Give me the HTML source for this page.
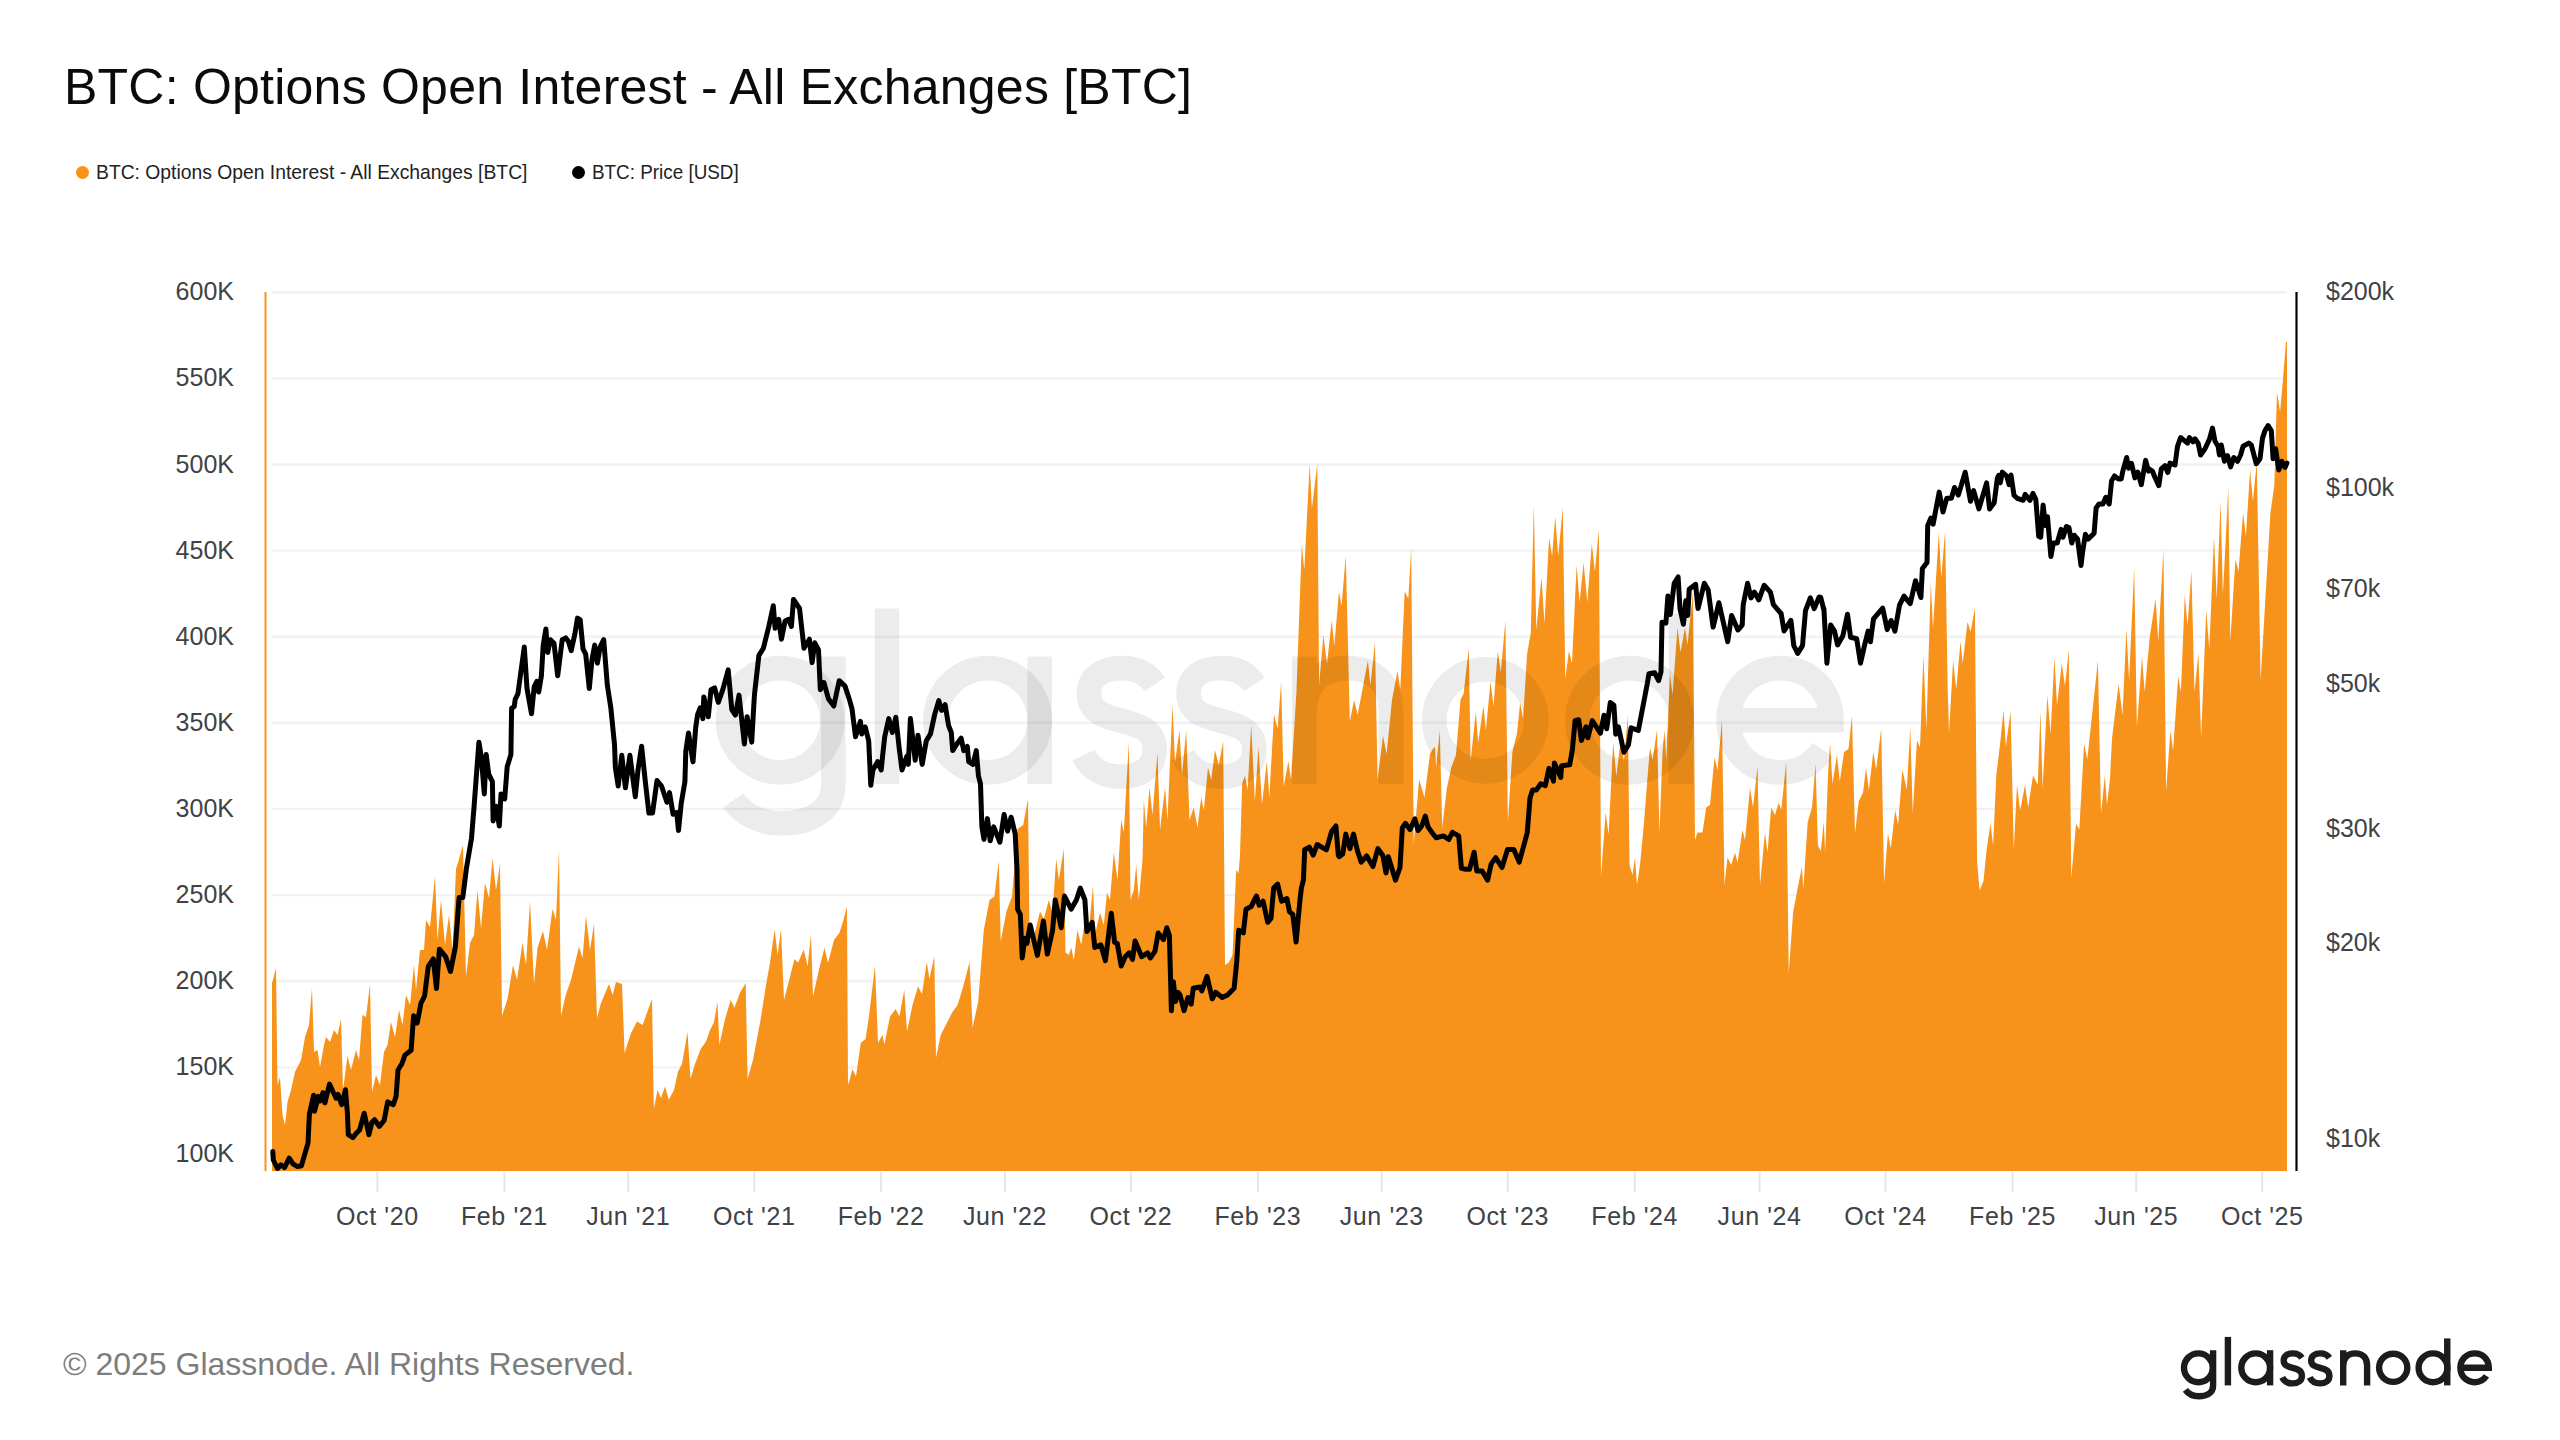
<!DOCTYPE html>
<html><head><meta charset="utf-8">
<style>
html,body{margin:0;padding:0;background:#fff;}
body{width:2560px;height:1440px;position:relative;overflow:hidden;font-family:"Liberation Sans",sans-serif;}
.t{position:absolute;white-space:nowrap;}
</style></head><body>
<div class="t" style="left:64px;top:57px;font-size:50px;color:#0b0b0b;letter-spacing:0.23px;line-height:60px">BTC: Options Open Interest - All Exchanges [BTC]</div>
<div class="t" style="left:76px;top:166px;width:13px;height:13px;border-radius:50%;background:#F7931A"></div>
<div class="t" style="left:96px;top:159.5px;font-size:20.4px;color:#222;line-height:24px;transform:scaleX(0.947);transform-origin:0 0">BTC: Options Open Interest - All Exchanges [BTC]</div>
<div class="t" style="left:572px;top:166px;width:13px;height:13px;border-radius:50%;background:#000"></div>
<div class="t" style="left:592px;top:159.5px;font-size:20.4px;color:#222;line-height:24px;transform:scaleX(0.925);transform-origin:0 0">BTC: Price [USD]</div>
<svg width="2560" height="1440" style="position:absolute;left:0;top:0">
<g stroke="#f2f2f2" stroke-width="2.4"><line x1="272" y1="292.2" x2="2287" y2="292.2"/><line x1="272" y1="378.3" x2="2287" y2="378.3"/><line x1="272" y1="464.5" x2="2287" y2="464.5"/><line x1="272" y1="550.6" x2="2287" y2="550.6"/><line x1="272" y1="636.7" x2="2287" y2="636.7"/><line x1="272" y1="722.8" x2="2287" y2="722.8"/><line x1="272" y1="809.0" x2="2287" y2="809.0"/><line x1="272" y1="895.1" x2="2287" y2="895.1"/><line x1="272" y1="981.2" x2="2287" y2="981.2"/><line x1="272" y1="1067.4" x2="2287" y2="1067.4"/><line x1="272" y1="1153.5" x2="2287" y2="1153.5"/></g>
<g stroke="#e6e6e6" stroke-width="2"><line x1="377.4" y1="1172" x2="377.4" y2="1192"/><line x1="504.4" y1="1172" x2="504.4" y2="1192"/><line x1="628.2" y1="1172" x2="628.2" y2="1192"/><line x1="754.2" y1="1172" x2="754.2" y2="1192"/><line x1="881.1" y1="1172" x2="881.1" y2="1192"/><line x1="1005.0" y1="1172" x2="1005.0" y2="1192"/><line x1="1130.9" y1="1172" x2="1130.9" y2="1192"/><line x1="1257.9" y1="1172" x2="1257.9" y2="1192"/><line x1="1381.8" y1="1172" x2="1381.8" y2="1192"/><line x1="1507.7" y1="1172" x2="1507.7" y2="1192"/><line x1="1634.7" y1="1172" x2="1634.7" y2="1192"/><line x1="1759.6" y1="1172" x2="1759.6" y2="1192"/><line x1="1885.5" y1="1172" x2="1885.5" y2="1192"/><line x1="2012.5" y1="1172" x2="2012.5" y2="1192"/><line x1="2136.3" y1="1172" x2="2136.3" y2="1192"/><line x1="2262.3" y1="1172" x2="2262.3" y2="1192"/></g>
<rect x="264.5" y="292" width="2" height="879" fill="#F7931A"/>
<path d="M272,1171 L272,982 L272.5,982 L276,967.5 L277.5,1085 L280,1077 L282.5,1115 L285,1125 L287.5,1102 L291,1090 L295,1072 L297.5,1067 L301,1060 L305,1037 L309,1025 L312,988 L314,1052 L317.5,1050 L320,1067 L324,1045 L326,1037 L330,1042 L334,1030 L337.5,1035 L341,1019 L343,1090 L347.5,1056 L351,1070 L356,1050 L359,1060 L362.5,1015 L366,1017 L370,984 L372,1092 L376,1075 L380,1085 L384,1052 L387.5,1045 L391,1022 L395,1037 L399,1010 L402.5,1025 L406,995 L410,1005 L414,965 L416,990 L420,950 L424,950 L426,920 L430,927 L435,876 L437.5,940 L441,900 L445,945 L449,915 L452.5,950 L456,869 L458.8,860 L463,845 L466,976.5 L470,943 L474,935 L477.5,890 L481,928 L485,883 L489,898 L492.5,858 L496,890 L500,864 L502,1016 L507.5,999 L513,965 L517,980 L522.5,943 L526,965 L530,901 L534,984 L537.5,948 L543,931 L547,950 L552.5,909 L556,920 L559,849 L561,1016 L565.7,995 L571,980 L579,946.5 L582.5,958 L586,916 L590,950 L594,924 L597,1018 L601,1003 L609,984 L612.6,995 L616,982 L622,984 L624.6,1053 L631,1033 L637,1021.5 L642.6,1025 L648,1010 L652,999 L653.8,1105 L654,1108 L657.5,1090 L661,1098 L665,1086.6 L668.8,1099.7 L674,1090 L678,1071.6 L682,1064 L687.5,1032 L690.5,1079 L695,1064 L700.7,1049 L706,1041.5 L710,1030 L713.8,1022.8 L717.5,1002 L719.4,1045 L725,1019 L730.7,1000 L734.4,1007.8 L740,992.8 L745.7,983 L747.6,1079 L753,1060 L760.7,1019 L766,985 L770,962.7 L774.6,929 L777.6,955 L781,929 L784,1000 L788.8,981.5 L794.5,959 L798,962.7 L803.8,949.6 L807.6,966.5 L811,934.6 L813,996.5 L818.9,970 L824.5,947.7 L828,962.7 L834,940 L839.5,932.7 L843,921.5 L847,906.5 L848,1084 L848.9,1082.8 L852.5,1069 L856,1076.5 L860.8,1042.8 L865.6,1039 L869.4,1012.8 L875,965.8 L878,1042.8 L882.5,1035 L884.4,1044.6 L890,1016.5 L895.7,1009 L899.4,1016.5 L904.3,990 L907,1031.5 L912.5,1005 L918,986.5 L922,994 L926.8,962 L929.4,979 L934.3,956.5 L936,1057.8 L940.7,1035 L946.3,1024 L952,1012.8 L957.6,1005 L963.2,986.5 L969.6,962 L972.6,1027.8 L978.2,1001.5 L983.8,930 L989.5,900 L994.4,896.4 L998.8,860.8 L1000.7,941.5 L1006.4,911.4 L1012,896.4 L1017.6,829 L1023.2,825 L1028,798.9 L1029.6,941.5 L1034.5,934 L1040,911.4 L1043.9,919 L1048.8,900 L1052.5,912.5 L1056.2,858.8 L1058.8,880 L1063.8,848.8 L1065.5,952.5 L1068.8,955 L1071.2,947.5 L1073.8,960 L1077.5,930 L1081.2,945 L1085,920 L1088.8,930 L1093,886 L1095,935 L1100,912.5 L1103.8,925 L1107,892.5 L1110,900 L1113.8,852.5 L1117.5,880 L1121.2,820 L1123.8,832.5 L1128.8,742.5 L1130.5,900 L1133.8,890 L1136.2,865 L1138.8,900 L1142.5,860 L1143.8,800 L1146.2,827.5 L1149.5,787.5 L1152.5,815 L1157.5,752.5 L1160,830 L1165,787.5 L1167.5,820 L1172.5,705 L1175,762.5 L1179.5,730 L1182,775 L1186.2,730 L1189.5,820 L1193.8,807.5 L1197.5,827.5 L1201.2,797.5 L1203.8,810 L1208,767.5 L1211.2,780 L1215,750 L1218.8,765 L1223.2,741.2 L1225,965 L1228.8,962.5 L1232.5,955 L1236.2,870 L1238.6,873 L1240,855 L1242.2,783 L1245,775.7 L1247.6,790 L1251.2,725 L1254.9,801 L1258.5,746.9 L1262,804.6 L1266.8,761.3 L1269.3,797.4 L1274,714.4 L1277.6,728.8 L1281.2,681.9 L1283.7,786.6 L1288.4,761.3 L1291,779.4 L1296.4,692.7 L1301.8,544.7 L1304.3,570 L1309.7,463.5 L1311.9,508.6 L1317.3,463.5 L1319.1,685.5 L1323.4,635 L1327,663.8 L1331.7,620.5 L1334.3,645.8 L1339,591.6 L1341.5,606 L1345.8,555.5 L1349.8,721.6 L1354.1,700 L1357.7,714.4 L1363.2,685.5 L1367.9,660.2 L1370.4,685.5 L1375,642.2 L1377.6,779.4 L1383,736 L1386.6,754 L1392,700 L1397.5,671 L1400.3,689 L1404.7,591.6 L1408.3,598.8 L1411.2,548.3 L1413.7,844.3 L1419.1,779.4 L1424.5,797.4 L1430,754 L1433,748.7 L1435,747 L1436.1,767 L1439.8,730.4 L1442.2,828 L1446.8,788.4 L1451.4,767 L1456,754.8 L1460.5,699.8 L1463.6,693.7 L1468.8,648 L1470.6,761 L1475.8,712 L1478.2,742.6 L1483.4,706 L1485.9,730.4 L1490.5,681.5 L1493.5,706 L1497.8,651 L1500.8,672.4 L1505.4,620.5 L1507.9,822 L1512.4,751.8 L1517,733.4 L1520.1,702.9 L1523.1,718.2 L1527.1,654 L1530.8,632.7 L1533.8,504.4 L1536.3,629.6 L1541.5,577.7 L1544.5,623.5 L1549.1,538 L1552.1,556.3 L1555.2,516.6 L1558.2,556.3 L1562.8,507.5 L1565.3,678.5 L1568.9,651 L1572,663.2 L1576.6,565.5 L1579.6,602 L1583.6,562.4 L1587.3,602 L1591.8,544 L1594.9,571.6 L1598.9,528.9 L1601,877 L1605.6,812.8 L1608.6,834.2 L1613.2,742.6 L1616.3,776.2 L1620.8,739.5 L1623.9,761 L1627.9,715 L1629.5,865 L1632.5,875 L1635,857.5 L1637,885 L1640,865 L1643.8,825 L1647.5,777.5 L1650,747.5 L1652.5,760 L1657,730 L1659.5,832.5 L1662.5,752.5 L1664.5,730 L1666.2,760 L1670,675 L1672.5,695 L1677.5,627.5 L1680.5,652.5 L1685,627.5 L1687.5,645 L1690.5,615 L1693,592.5 L1695,840 L1697.5,832.5 L1702.5,832.5 L1706.2,807.5 L1710,805 L1714.5,757.5 L1717.5,770 L1722,720 L1724.5,885 L1727.5,857.5 L1731.2,865 L1735,852.5 L1737.5,862.5 L1742.5,830 L1745,840 L1750,787.5 L1753,807.5 L1757.5,766.2 L1760,885 L1765,832.5 L1767.5,852.5 L1771.2,807.5 L1775,815 L1778.8,802.5 L1781.2,810 L1786.2,762.5 L1788.7,973.6 L1793.1,912.4 L1797.5,889 L1801.9,867 L1803.3,889 L1807.7,822 L1812,807.4 L1815.6,763.7 L1817.9,845.3 L1820.8,851 L1823.7,822 L1825.2,852.6 L1828.1,772.4 L1830.1,743.3 L1832.5,784 L1836.9,755 L1839.8,781.2 L1844.1,752 L1848.5,749 L1852,715.6 L1855,833.6 L1858.7,801.6 L1863,792.8 L1866,768 L1868.9,790 L1873.3,752 L1876.2,769.5 L1881.2,728.7 L1884.1,883.2 L1887.9,833.6 L1890.8,848.2 L1895.2,810.3 L1898.1,825 L1902.4,769.5 L1906.8,790 L1910.3,727.2 L1912.7,813.2 L1917,740.3 L1920,747.6 L1923.4,655.8 L1926.4,728.7 L1930.8,582.2 L1933,628.5 L1938.8,532.6 L1941.3,577.4 L1945.1,531 L1947.7,689.2 L1949,734 L1953.1,660.4 L1956.3,689.2 L1960.5,641.3 L1962.7,663.6 L1967.5,622 L1970.7,631.7 L1974.9,607.7 L1977.1,861.7 L1979.6,890.5 L1983.5,880.9 L1986.7,849 L1990.5,823.4 L1993.1,845.8 L1996.3,775.5 L2000.1,743.5 L2003.6,710 L2005.8,746.7 L2010.6,711.6 L2013.8,849 L2017,785 L2020.2,810.6 L2025,785 L2028.2,807.4 L2033,775.5 L2037.8,785 L2040.4,711.6 L2042.6,788.2 L2047.4,695.6 L2050.6,734 L2054.4,657.3 L2057,705.2 L2061.8,663.6 L2065,686 L2068.8,649.3 L2071.3,877.7 L2076.1,823.4 L2079.3,829.8 L2084.1,743.5 L2087.3,759.5 L2092.1,714.8 L2097.9,660.4 L2101,813.8 L2104.9,775.5 L2107,804.7 L2110,778.7 L2112,738.6 L2118.6,684 L2122.5,715.2 L2126.4,629.6 L2129.1,680.2 L2134.2,567.4 L2136.9,726.9 L2142,656.8 L2144.7,691.9 L2149.7,637.4 L2155.6,598.5 L2158.3,641.3 L2163.4,549.8 L2166.1,791 L2170.4,730.8 L2173.1,750.2 L2178.2,676.3 L2180.9,691.9 L2184.8,594.6 L2187.5,625.7 L2191.4,571.2 L2194.5,691.9 L2198.4,653 L2201.1,738.6 L2206.2,610.2 L2209.3,649 L2214,536.2 L2216.7,598.5 L2220.6,501.2 L2222.9,594.6 L2228.3,487.6 L2230.3,641.3 L2235.4,559.6 L2238.5,571.2 L2243.1,512.9 L2245.9,536.2 L2250.1,470 L2252.9,501.2 L2256.8,462.3 L2260.6,680.2 L2264.5,614 L2270.4,512.9 L2274.3,485.6 L2277,392.3 L2280.1,411.7 L2283.2,376.7 L2286,341.7 L2287,341.7 L2287,1171 Z" fill="#F7931A"/>
<g transform="translate(715,784) scale(3.62)" style="color:rgba(0,0,0,0.075)">
<g fill="none" stroke="currentColor" stroke-width="6.8">
  <circle cx="18" cy="-17.6" r="14.4"/>
  <path d="M32.7,-35.2 V0 C32.7,7 27,10.9 18.5,10.9 C12,10.9 7.5,8 5,4.5"/>
  <path d="M47.5,-48.5 V0"/>
  <circle cx="75.3" cy="-17.6" r="14.4"/>
  <path d="M89.7,-35.2 V0"/>
  <path d="M121.5,-27.5 C119.5,-30.5 116.5,-32 112.5,-32 C107,-32 103.3,-29.5 103.3,-25 C103.3,-14.5 121.5,-20.5 121.5,-9.5 C121.5,-4.5 117.5,-2 112,-2 C107,-2 103.5,-4.5 101.8,-8"/>
  <path d="M149,-27.5 C147,-30.5 144,-32 140,-32 C134.5,-32 130.8,-29.5 130.8,-25 C130.8,-14.5 149,-20.5 149,-9.5 C149,-4.5 145,-2 139.5,-2 C134.5,-2 131,-4.5 129.3,-8"/>
  <path d="M162.8,-35.2 V0 M162.8,-19 C162.8,-28 167.5,-32 174.8,-32 C182,-32 186.7,-28 186.7,-20 V0"/>
  <circle cx="212.8" cy="-17.6" r="14.1"/>
  <circle cx="252.6" cy="-17.6" r="14.4"/>
  <path d="M266.85,-47 V0"/>
  <path d="M280,-17.6 H308.4 C308.4,-26 302.5,-32 294.3,-32 C286,-32 280,-25.6 280,-17.6 C280,-9.3 286,-3.2 294.3,-3.2 C299.5,-3.2 303.5,-5.5 306,-9.5"/>
</g></g>
<path d="M272.8,1151.6 L273.3,1160 L277.5,1168.5 L280.8,1164.8 L284.5,1167.6 L289.2,1158.2 L293,1163.8 L297.6,1166.6 L301.4,1165.7 L305.2,1152.6 L308,1143.2 L309.4,1114.1 L313.6,1095.3 L314.5,1111.3 L318.3,1096.3 L320.2,1101 L323,1092.5 L324.9,1102.9 L329.5,1084.1 L333.3,1092.5 L336.1,1098.2 L338,1094.4 L341.7,1104.7 L345.5,1089.7 L347.4,1113.2 L348.3,1134.7 L353,1137.6 L355.8,1133.8 L359.6,1130 L364.2,1113.2 L368.9,1134.7 L371.8,1122.6 L374.6,1119.7 L379.3,1126.3 L384,1120.7 L387.7,1101.9 L393.3,1104.7 L396.1,1096.3 L398,1070 L402,1063.5 L404.9,1055.1 L411.1,1050.2 L413.6,1015.7 L417.2,1023.1 L420.9,1003.4 L424.6,996 L428.3,966.4 L433.3,959 L436.5,988.6 L439.4,949.2 L445.6,956.6 L450.5,971.4 L455.4,946.7 L459.1,897.4 L462.8,897.4 L466.5,867.9 L471.5,838.3 L473.9,808.7 L478.9,742.2 L481.3,757 L484.3,793.9 L486.2,754.5 L488.7,774.2 L492.4,781.6 L493.1,821 L496.1,806.2 L499.3,826 L501,793.9 L504.7,798.9 L507.2,766.8 L510.9,754.5 L511.6,708.4 L514.3,706.5 L515.2,699.3 L517.9,693.9 L520.6,674 L524.3,647 L527,688.5 L531.5,713.8 L534.2,686.7 L536.9,681.3 L538.7,692.1 L541.4,675.8 L543.2,645.1 L545.9,628.9 L547.7,652.4 L550.4,639.7 L554,643.3 L557.7,675.8 L562.2,639.7 L565.8,637.9 L568.5,641.5 L571.2,650.6 L574.8,634.3 L577.5,618.1 L580.2,619.9 L583,648.8 L585.7,654.2 L589.3,688.5 L592,659.6 L594.7,645.1 L597.4,663.2 L600.1,647 L603.7,639.7 L607.3,684.9 L610.9,708.4 L614.5,744.5 L615.4,767.9 L618.2,786 L621.8,755.3 L625.4,787.8 L629.9,755.3 L635.3,796.8 L638,769.8 L641.6,746.3 L645.2,780.6 L648.9,813.1 L652.5,813.1 L657,780.6 L661.5,786 L666.9,802.3 L669.5,792.6 L673.1,814.3 L676.7,812.5 L678.5,830.5 L681.2,803.5 L684.9,781.8 L685.8,751.1 L688.5,733 L693,761.9 L695.7,727.6 L697.5,715 L700.2,707.8 L702.9,718.6 L703.8,696.9 L708.3,716.8 L711,689.7 L714.6,687.9 L718.3,702.3 L722.8,689.7 L728.2,669.9 L731.8,709.6 L735.4,715 L739,695.1 L744.4,743.9 L747.1,716.8 L751.7,742.1 L754.4,695.1 L758.9,655.4 L763.4,648.2 L768.8,626.5 L773.3,605.8 L775.1,628.3 L778.7,619.3 L781.4,639.2 L785.1,621.1 L788.7,619.3 L791.4,626.5 L793.5,599.4 L799.5,608.5 L804,648.2 L809.4,639.2 L812.1,662.6 L814.8,642.8 L818.5,650 L820.3,689.7 L823.9,682.5 L828.4,698.7 L833.8,706 L839.2,680.7 L845,686.1 L849.3,699.2 L852,708.9 L855.5,736.7 L860.4,721.4 L861.8,733.9 L865.2,726.9 L868.7,740.8 L870.8,785.3 L872.9,770 L877.7,761.7 L881.2,770 L882.6,756.1 L884.7,736.7 L888.8,718.6 L892.3,732.5 L895.8,717.2 L899.3,749.2 L902,770 L906.9,756.1 L908.3,764.4 L910.4,718.6 L915.2,760.3 L918,735.3 L922.2,764.4 L926.3,740.8 L930.5,733.9 L934.7,714.4 L938.8,700.6 L941.6,710.3 L945.1,704.7 L948.6,725.6 L951.3,732.5 L952.7,750.6 L956.2,745 L961.1,738.1 L963.8,750.6 L967.3,746.4 L968.7,761.7 L972.9,764.4 L976.3,750.6 L978.4,775.6 L980.5,783.9 L981.9,826.9 L984,839.4 L987.4,818.6 L990.2,840.8 L993.7,826.9 L999.9,842.2 L1004.1,814.4 L1007.6,831.1 L1011.1,817.2 L1015.2,833.9 L1017,869.6 L1017.6,909.2 L1020.3,914.5 L1022.2,958 L1024.9,938.2 L1026.9,943.5 L1030.2,925 L1037.4,955.4 L1043.4,921.1 L1047.3,954.1 L1052.6,930.3 L1055.2,900 L1061.2,927.7 L1064.5,896 L1071.1,909.2 L1076.4,900 L1080.3,888.1 L1084.9,900 L1086.9,931.6 L1092.2,922.4 L1094.8,947.5 L1100.8,944.8 L1105.4,960.7 L1111.3,913.2 L1114.6,942.2 L1117.3,943.5 L1121.2,966 L1125.2,956.7 L1129.2,952.8 L1132.5,959.4 L1135.1,940.9 L1141.7,956.7 L1147.6,952.8 L1150.3,958 L1154.9,951.4 L1158.2,933 L1163.5,939.6 L1166.8,927.7 L1169.4,935.6 L1171.4,1010.8 L1173.4,981.8 L1175.4,1001.6 L1178,992.4 L1180,994.9 L1184,1010.7 L1187.9,997.5 L1191.2,1004.1 L1193.2,988.3 L1199.8,987 L1201.8,991 L1207,976.4 L1212.3,998.9 L1215.6,992.3 L1222.2,997.5 L1227.5,994.9 L1234.1,988.3 L1236.7,961.9 L1238.7,930.3 L1243.3,932.9 L1246,909.2 L1251.2,906.5 L1256.5,896 L1259.2,905.2 L1263.1,901.2 L1267.7,922.3 L1271,918.4 L1273.7,888 L1277.6,884.1 L1281.6,901.2 L1286.9,898.6 L1289.5,911.8 L1292.8,914.4 L1296.1,942.1 L1300.1,898.6 L1301.4,888 L1303.4,880.1 L1304.7,849.8 L1309.3,847.2 L1313.2,855.1 L1317.2,844.5 L1326.4,849.8 L1331.7,831.3 L1335.9,826 L1338.3,855.1 L1339.1,856.7 L1342.7,854 L1345.8,834.1 L1349.9,848.6 L1353.5,834.1 L1357.6,851.3 L1361.2,862.1 L1366.6,855.8 L1372.9,866.6 L1377.9,848.6 L1382.9,855.8 L1386,872.9 L1388.3,856.7 L1395.5,880.2 L1400,867.5 L1402.3,827.8 L1405.4,823.3 L1410,829.6 L1414.9,818.8 L1418.1,830.5 L1421.7,826 L1425.3,816 L1428,826.9 L1432.5,833.2 L1436.1,837.7 L1443.4,835.9 L1448.8,839.5 L1452.4,832.3 L1458.7,835.9 L1461.4,868.4 L1465.9,869.3 L1469.5,869.3 L1474.1,852.2 L1476.8,871.1 L1482.2,871.1 L1487.6,880.2 L1491.2,863.9 L1495.7,857.6 L1502,867.5 L1507.5,849.5 L1513.8,849.5 L1519.2,862.1 L1523.7,845.8 L1527.3,832.3 L1530,798 L1532.7,789.9 L1536.3,790.1 L1540.8,783.8 L1545.3,785.6 L1549,768.4 L1553.5,781.1 L1554.4,763 L1560.7,777.5 L1561.6,765.7 L1569.7,764.8 L1572.4,749.5 L1575.1,720.6 L1578.7,719.7 L1581.4,740.5 L1586,726.9 L1587.8,737.8 L1592.3,720.6 L1600.4,733.2 L1604,715.2 L1606.7,728.7 L1610.3,702.6 L1613.9,705.3 L1615.7,734.2 L1618.4,726.9 L1623.9,752.2 L1628.4,745 L1631.1,727.8 L1638.3,730.5 L1642.8,707.1 L1647.3,683.6 L1648.9,673.8 L1654.7,672.8 L1658.6,680.6 L1661,671.8 L1662,622.2 L1665.9,623.2 L1667.9,596 L1670.3,614.5 L1674.2,583.3 L1678.1,577 L1680,608.6 L1683.4,624.2 L1685.8,600.8 L1687.8,615.4 L1689.2,589.2 L1695.6,584.3 L1698,608.6 L1704.3,583.3 L1708.2,590.1 L1713.1,627.1 L1718.9,602.8 L1727.7,641.7 L1731.6,615.4 L1737.9,630 L1742.2,625.2 L1743.2,604.7 L1747.6,583.3 L1751,597.9 L1754.4,592.1 L1758.8,599.9 L1764.1,585.3 L1770.4,592.1 L1773.4,604.7 L1781.1,613.5 L1784.1,631 L1790.9,620.3 L1793.8,645.6 L1797.7,653.4 L1802.5,645.6 L1805.5,610.6 L1810.3,597.9 L1814.2,608.6 L1819.1,597 L1820.8,597.5 L1823.8,609.8 L1823.9,608.6 L1826.9,663.2 L1830.7,625 L1834.5,631.1 L1837.6,644.9 L1842.9,635.7 L1847.5,614.3 L1850.6,637.3 L1856.7,638.8 L1860.5,663.2 L1864.3,646.4 L1868.1,631.1 L1870.4,641.8 L1873.5,618.9 L1882.7,608.2 L1887.2,629.6 L1891.1,620.5 L1894.9,631.1 L1899.5,605.2 L1904,596 L1910.2,603.6 L1915.5,580.7 L1920.9,597.5 L1922.4,568.5 L1927,562.4 L1927.7,525.7 L1930.8,518.1 L1933.1,524.2 L1939.2,492.1 L1943,512 L1946.8,498.2 L1951.4,498.2 L1954.5,487.5 L1958.3,495.1 L1965.2,472.2 L1970.5,501.3 L1973.6,490.6 L1978.9,508.9 L1986.6,482.9 L1989.6,508.9 L1994.2,502.8 L1997.4,477.9 L1998.8,475.3 L2000.3,482.8 L2002.3,472.1 L2006.7,476 L2009.1,484.7 L2011,475 L2014,495.4 L2017.4,498.3 L2023.2,500.3 L2025.1,494.4 L2030,500.3 L2032.9,493.4 L2035.8,499.3 L2038.7,536.2 L2040.7,537.2 L2043.1,505.1 L2045.5,525.5 L2047.5,516.8 L2050.9,556.6 L2053.3,543 L2057.2,543 L2061.1,529.4 L2063,537.2 L2066.4,526.5 L2068.9,527.5 L2071.8,543 L2074.2,535.2 L2077.6,539.1 L2081,565.4 L2082.5,552.7 L2085.4,534.3 L2088.3,539.1 L2094.1,533.3 L2096.1,508 L2099,504.1 L2102.9,504.1 L2105.8,497.3 L2109.2,504.1 L2111.6,480.8 L2114.5,476 L2118.4,478.9 L2121.3,478.9 L2122.8,471.1 L2126.7,457.5 L2128.6,468.2 L2131.5,463.3 L2134.9,477.9 L2137.9,472.1 L2141.3,484.7 L2145.6,460.4 L2148.5,471.1 L2150,469.4 L2152.5,471.3 L2155,477.5 L2158.8,485.6 L2161.3,468.8 L2165,465.6 L2167.8,472.5 L2170,463.1 L2175,465 L2177.5,446.3 L2180.6,437.5 L2187.5,443.1 L2189.4,437.5 L2193.1,441.9 L2195,438.8 L2198.1,443.1 L2200.6,455 L2205,448.8 L2209.4,439.4 L2212.5,428.1 L2215,441.3 L2218.1,446.3 L2219.4,455 L2221.3,445 L2224.4,461.3 L2227.5,455.6 L2230.6,466.9 L2233.8,457.5 L2237.5,461.3 L2240.6,455 L2243.1,446.3 L2248.8,443.1 L2251.3,445 L2256.3,463.8 L2260,458.8 L2262.5,438.1 L2265,430.6 L2268.1,425.6 L2271.3,430.6 L2273.1,458.8 L2275.6,448.8 L2278.8,470 L2281.9,461.3 L2285,467.5 L2286.9,463.1" fill="none" stroke="#000" stroke-width="5" stroke-linejoin="round" stroke-linecap="round"/>
<line x1="2296.5" y1="292" x2="2296.5" y2="1171" stroke="#000" stroke-width="2.2"/>
<g font-family="Liberation Sans" font-size="25" fill="#404246"><text x="234" y="300.2" text-anchor="end">600K</text><text x="234" y="386.3" text-anchor="end">550K</text><text x="234" y="472.5" text-anchor="end">500K</text><text x="234" y="558.6" text-anchor="end">450K</text><text x="234" y="644.7" text-anchor="end">400K</text><text x="234" y="730.8" text-anchor="end">350K</text><text x="234" y="817.0" text-anchor="end">300K</text><text x="234" y="903.1" text-anchor="end">250K</text><text x="234" y="989.2" text-anchor="end">200K</text><text x="234" y="1075.4" text-anchor="end">150K</text><text x="234" y="1161.5" text-anchor="end">100K</text><text x="2326" y="300.1">$200k</text><text x="2326" y="496.1">$100k</text><text x="2326" y="596.9">$70k</text><text x="2326" y="692.1">$50k</text><text x="2326" y="836.5">$30k</text><text x="2326" y="951.1">$20k</text><text x="2326" y="1147.1">$10k</text><text x="377.4" y="1224.5" text-anchor="middle" letter-spacing="0.6">Oct '20</text><text x="504.4" y="1224.5" text-anchor="middle" letter-spacing="0.6">Feb '21</text><text x="628.2" y="1224.5" text-anchor="middle" letter-spacing="0.6">Jun '21</text><text x="754.2" y="1224.5" text-anchor="middle" letter-spacing="0.6">Oct '21</text><text x="881.1" y="1224.5" text-anchor="middle" letter-spacing="0.6">Feb '22</text><text x="1005.0" y="1224.5" text-anchor="middle" letter-spacing="0.6">Jun '22</text><text x="1130.9" y="1224.5" text-anchor="middle" letter-spacing="0.6">Oct '22</text><text x="1257.9" y="1224.5" text-anchor="middle" letter-spacing="0.6">Feb '23</text><text x="1381.8" y="1224.5" text-anchor="middle" letter-spacing="0.6">Jun '23</text><text x="1507.7" y="1224.5" text-anchor="middle" letter-spacing="0.6">Oct '23</text><text x="1634.7" y="1224.5" text-anchor="middle" letter-spacing="0.6">Feb '24</text><text x="1759.6" y="1224.5" text-anchor="middle" letter-spacing="0.6">Jun '24</text><text x="1885.5" y="1224.5" text-anchor="middle" letter-spacing="0.6">Oct '24</text><text x="2012.5" y="1224.5" text-anchor="middle" letter-spacing="0.6">Feb '25</text><text x="2136.3" y="1224.5" text-anchor="middle" letter-spacing="0.6">Jun '25</text><text x="2262.3" y="1224.5" text-anchor="middle" letter-spacing="0.6">Oct '25</text></g>
<g transform="translate(2180.4,1385.4)" style="color:#1c1c1c">
<g fill="none" stroke="currentColor" stroke-width="6.4">
  <circle cx="18" cy="-17.6" r="14.4"/>
  <path d="M32.7,-35.2 V0 C32.7,7 27,10.9 18.5,10.9 C12,10.9 7.5,8 5,4.5"/>
  <path d="M47.5,-48.5 V0"/>
  <circle cx="75.3" cy="-17.6" r="14.4"/>
  <path d="M89.7,-35.2 V0"/>
  <path d="M121.5,-27.5 C119.5,-30.5 116.5,-32 112.5,-32 C107,-32 103.3,-29.5 103.3,-25 C103.3,-14.5 121.5,-20.5 121.5,-9.5 C121.5,-4.5 117.5,-2 112,-2 C107,-2 103.5,-4.5 101.8,-8"/>
  <path d="M149,-27.5 C147,-30.5 144,-32 140,-32 C134.5,-32 130.8,-29.5 130.8,-25 C130.8,-14.5 149,-20.5 149,-9.5 C149,-4.5 145,-2 139.5,-2 C134.5,-2 131,-4.5 129.3,-8"/>
  <path d="M162.8,-35.2 V0 M162.8,-19 C162.8,-28 167.5,-32 174.8,-32 C182,-32 186.7,-28 186.7,-20 V0"/>
  <circle cx="212.8" cy="-17.6" r="14.1"/>
  <circle cx="252.6" cy="-17.6" r="14.4"/>
  <path d="M266.85,-47 V0"/>
  <path d="M280,-17.6 H308.4 C308.4,-26 302.5,-32 294.3,-32 C286,-32 280,-25.6 280,-17.6 C280,-9.3 286,-3.2 294.3,-3.2 C299.5,-3.2 303.5,-5.5 306,-9.5"/>
</g></g>
</svg>
<div class="t" style="left:63px;top:1344px;font-size:32px;color:#7d7d7d;line-height:40px">© 2025 Glassnode. All Rights Reserved.</div>
</body></html>
